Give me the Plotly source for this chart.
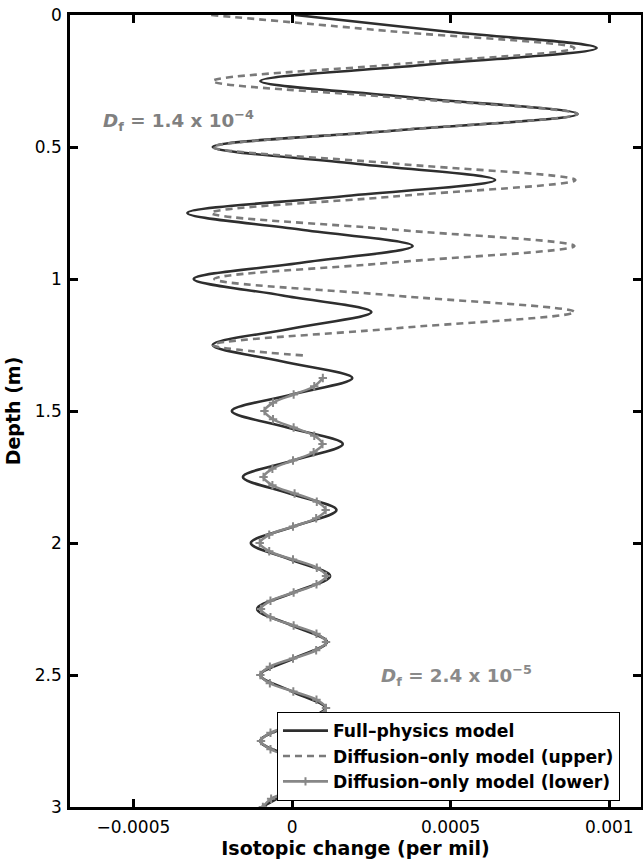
import plotly.graph_objects as go

# ---- data ----
# Full-physics model: depth (m) and isotopic change (per mil)
full_depth = [0.0, 0.0625, 0.125, 0.1875, 0.25, 0.3125, 0.375, 0.4375, 0.5, 0.5625,
              0.625, 0.6875, 0.75, 0.8125, 0.875, 0.9375, 1.0, 1.0625, 1.125, 1.1875,
              1.25, 1.3125, 1.375, 1.4375, 1.5, 1.5625, 1.625, 1.6875, 1.75, 1.8125,
              1.875, 1.9375, 2.0, 2.0625, 2.125, 2.1875, 2.25, 2.3125, 2.375, 2.4375,
              2.5, 2.5625, 2.625, 2.6875, 2.75, 2.8125, 2.875, 2.9375, 3.0]
full_value = [0.00001, 0.000485, 0.00096, 0.00043, -0.0001, 0.00038, 0.0009, 0.000325, -0.00025, 0.000195,
              0.00064, 0.000155, -0.00033, 0.000025, 0.00038, 0.000035, -0.00031, -0.00003, 0.00025, 0.0,
              -0.00025, -0.00003, 0.00019, 0.0, -0.00019, -0.000015, 0.00016, 0.000003, -0.000155, -0.000008,
              0.00014, 0.000005, -0.00013, -0.000005, 0.00012, 0.000005, -0.00011, 0.0, 0.00011, 0.000005,
              -0.0001, 0.0, 0.000105, 0.0, -0.0001, 0.0, 0.0001, 0.0, -0.000095]

# Diffusion-only model (upper)
upper_depth = [0.0, 0.0625, 0.125, 0.1875, 0.25, 0.3125, 0.375, 0.4375, 0.5, 0.5625,
               0.625, 0.6875, 0.75, 0.8125, 0.875, 0.9375, 1.0, 1.0625, 1.125, 1.1875,
               1.25, 1.29]
upper_value = [-0.000255, 0.00032, 0.00089, 0.00032, -0.00025, 0.000325, 0.0009, 0.000325, -0.00025, 0.00032,
               0.000893, 0.00032, -0.000255, 0.00032, 0.00089, 0.00032, -0.000245, 0.00032, 0.00089, 0.00032,
               -0.00025, 0.00004]

# Diffusion-only model (lower)
lower_depth = [1.375, 1.40625, 1.4375, 1.46875, 1.5, 1.53125, 1.5625, 1.59375, 1.625, 1.65625,
               1.6875, 1.71875, 1.75, 1.78125, 1.8125, 1.84375, 1.875, 1.90625, 1.9375, 1.96875,
               2.0, 2.03125, 2.0625, 2.09375, 2.125, 2.15625, 2.1875, 2.21875, 2.25, 2.28125,
               2.3125, 2.34375, 2.375, 2.40625, 2.4375, 2.46875, 2.5, 2.53125, 2.5625, 2.59375,
               2.625, 2.65625, 2.6875, 2.71875, 2.75, 2.78125, 2.8125, 2.84375, 2.875, 2.90625,
               2.9375, 2.96875, 3.0]
lower_value = [0.000097, 0.00007, 0.000005, -0.00006, -0.000087, -0.00006, 0.000005, 0.00007, 0.000096, 0.000068,
               0.000003, -0.000062, -0.00009, -0.000062, 0.000008, 0.000078, 0.000106, 0.000076, 0.000003, -0.000072,
               -0.000102, -0.000072, 0.000003, 0.000078, 0.000107, 0.000077, 0.000005, -0.000068, -0.000098, -0.000068,
               0.000005, 0.000077, 0.000107, 0.000076, 0.000003, -0.00007, -0.0001, -0.00007, 0.000004, 0.000077,
               0.000107, 0.000077, 0.000005, -0.000068, -0.000098, -0.000068, 0.000005, 0.000077, 0.000105, 0.000074,
               0.000003, -0.000066, -0.000092]

x_tickvals = [-0.0005, 0, 0.0005, 0.001]
x_ticktext = ["\u22120.0005", "0", "0.0005", "0.001"]
y_tickvals = [0, 0.5, 1, 1.5, 2, 2.5, 3]
y_ticktext = ["0", "0.5", "1", "1.5", "2", "2.5", "3"]

FONT = "DejaVu Sans"

fig = go.Figure()
fig.add_trace(go.Scatter(
    x=full_value, y=full_depth, mode="lines", name="Full\u2013physics model",
    line=dict(color="#2e2e2e", width=2.6, shape="spline", smoothing=1.0)))
fig.add_trace(go.Scatter(
    x=upper_value, y=upper_depth, mode="lines", name="Diffusion\u2013only model (upper)",
    line=dict(color="#7a7a7a", width=2.6, dash="7px,5px", shape="spline", smoothing=1.0)))
fig.add_trace(go.Scatter(
    x=lower_value, y=lower_depth, mode="lines+markers", name="Diffusion\u2013only model (lower)",
    line=dict(color="#878787", width=2.6, shape="spline", smoothing=1.0),
    marker=dict(symbol="cross-thin", size=6, color="#878787",
                line=dict(color="#878787", width=2))))

fig.add_annotation(
    x=-0.000603, y=0.4, xref="x", yref="y", xanchor="left", yanchor="middle",
    text="<b><i>D</i><sub>f</sub> = 1.4 x 10<sup>\u22124</sup></b>", showarrow=False,
    font=dict(family=FONT, size=18.3, color="#808080"))
fig.add_annotation(
    x=0.000274, y=2.5, xref="x", yref="y", xanchor="left", yanchor="middle",
    text="<b><i>D</i><sub>f</sub> = 2.4 x 10<sup>\u22125</sup></b>", showarrow=False,
    font=dict(family=FONT, size=18.3, color="#8a8a8a"))

axis_common = dict(
    showline=True, linewidth=2.5, linecolor="black", mirror="ticks",
    ticks="inside", ticklen=8, tickwidth=2.5, tickcolor="black",
    showgrid=False, zeroline=False, automargin=False,
    tickfont=dict(family=FONT, size=17, color="black"))

fig.update_layout(
    width=643, height=861,
    margin=dict(l=70, r=2, t=15, b=54),
    paper_bgcolor="white", plot_bgcolor="white",
    font=dict(family=FONT, color="black"),
    xaxis=dict(range=[-0.0007, 0.0011], tickvals=x_tickvals, ticktext=x_ticktext,
               ticklabelstandoff=3,
               title=dict(text="<b>Isotopic change (per mil)</b>",
                          font=dict(family=FONT, size=19, color="black"), standoff=2),
               **axis_common),
    yaxis=dict(range=[3, 0], tickvals=y_tickvals, ticktext=y_ticktext,
               ticklabelstandoff=2,
               title=dict(text="<b>Depth (m)</b>",
                          font=dict(family=FONT, size=19, color="black"), standoff=10),
               **axis_common),
    legend=dict(x=0.3625, y=0.12, xanchor="left", yanchor="top",
                bgcolor="white", bordercolor="black", borderwidth=1,
                font=dict(family=FONT, size=17.2, color="black", weight="bold"),
                tracegroupgap=0, itemwidth=45),
    showlegend=True,
)

fig.write_html("out.html", config={"displayModeBar": False},
               post_script="document.body.style.margin='0';")
